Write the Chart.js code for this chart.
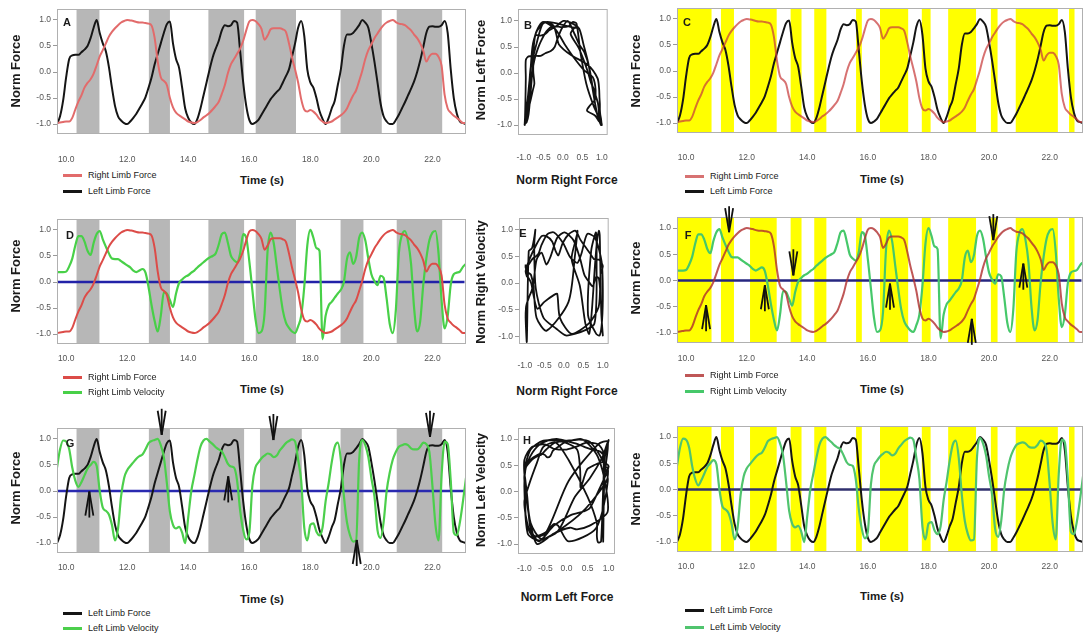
<!DOCTYPE html>
<html>
<head>
<meta charset="utf-8">
<script src="https://cdn.jsdelivr.net/npm/chart.js"></script>
<style>
  body { margin: 0; background: #fff; width: 1083px; height: 637px; overflow: hidden; position: relative;
         font-family: "Liberation Sans", Arial, sans-serif; }
  canvas { position: absolute; }
  .lbl { position: absolute; white-space: nowrap; color: #1a1a1a; line-height: 1; }
</style>
</head>
<body>
<script>
// time base (s), shared by every trace
const time = [
  9.7, 9.8, 9.9, 10.0, 10.1, 10.2, 10.3, 10.4, 10.5, 10.6,
  10.7, 10.8, 10.9, 11.0, 11.1, 11.2, 11.3, 11.4, 11.5, 11.6,
  11.7, 11.8, 11.9, 12.0, 12.1, 12.2, 12.3, 12.4, 12.5, 12.6,
  12.7, 12.8, 12.9, 13.0, 13.1, 13.2, 13.3, 13.4, 13.5, 13.6,
  13.7, 13.8, 13.9, 14.0, 14.1, 14.2, 14.3, 14.4, 14.5, 14.6,
  14.7, 14.8, 14.9, 15.0, 15.1, 15.2, 15.3, 15.4, 15.5, 15.6,
  15.7, 15.8, 15.9, 16.0, 16.1, 16.2, 16.3, 16.4, 16.5, 16.6,
  16.7, 16.8, 16.9, 17.0, 17.1, 17.2, 17.3, 17.4, 17.5, 17.6,
  17.7, 17.8, 17.9, 18.0, 18.1, 18.2, 18.3, 18.4, 18.5, 18.6,
  18.7, 18.8, 18.9, 19.0, 19.1, 19.2, 19.3, 19.4, 19.5, 19.6,
  19.7, 19.8, 19.9, 20.0, 20.1, 20.2, 20.3, 20.4, 20.5, 20.6,
  20.7, 20.8, 20.9, 21.0, 21.1, 21.2, 21.3, 21.4, 21.5, 21.6,
  21.7, 21.8, 21.9, 22.0, 22.1, 22.2, 22.3, 22.4, 22.5, 22.6,
  22.7, 22.8, 22.9, 23.0, 23.1
];

const rightForce = [
  -0.98, -0.97, -0.96, -0.95, -0.95, -0.88, -0.72, -0.57, -0.45, -0.30,
  -0.21, -0.14, -0.03, 0.13, 0.30, 0.42, 0.55, 0.68, 0.77, 0.84,
  0.90, 0.95, 0.98, 1.00, 0.99, 0.98, 0.96, 0.95, 0.95, 0.94,
  0.93, 0.89, 0.65, 0.20, -0.10, -0.17, -0.25, -0.50, -0.68, -0.78,
  -0.83, -0.87, -0.91, -0.95, -0.97, -0.98, -0.96, -0.92, -0.87, -0.83,
  -0.78, -0.72, -0.65, -0.57, -0.42, -0.25, -0.02, 0.15, 0.25, 0.35,
  0.45, 0.60, 0.80, 0.97, 1.00, 0.98, 0.92, 0.83, 0.62, 0.70,
  0.82, 0.84, 0.84, 0.84, 0.82, 0.77, 0.55, 0.28, 0.05, -0.20,
  -0.52, -0.72, -0.76, -0.73, -0.76, -0.82, -0.90, -0.95, -0.98, -0.97,
  -0.95, -0.91, -0.87, -0.83, -0.78, -0.70, -0.57, -0.45, -0.35, -0.17,
  0.02, 0.25, 0.42, 0.53, 0.65, 0.74, 0.83, 0.90, 0.95, 0.98,
  1.00, 0.96, 0.93, 0.92, 0.90, 0.85, 0.80, 0.72, 0.65, 0.55,
  0.41, 0.20, 0.30, 0.35, 0.35, 0.29, 0.12, -0.44, -0.70, -0.78,
  -0.84, -0.88, -0.93, -0.98, -0.98
];

const leftForce = [
  -1.00, -0.85, -0.55, -0.10, 0.25, 0.32, 0.33, 0.33, 0.38, 0.43,
  0.50, 0.65, 0.85, 1.00, 0.75, 0.55, 0.40, 0.10, -0.30, -0.65,
  -0.85, -0.93, -0.98, -1.00, -0.95, -0.88, -0.80, -0.70, -0.60, -0.48,
  -0.30, -0.10, 0.15, 0.35, 0.55, 0.75, 0.92, 0.97, 0.55, 0.25,
  0.08, -0.30, -0.70, -0.88, -0.97, -1.00, -0.90, -0.70, -0.45, -0.20,
  0.05, 0.28, 0.45, 0.60, 0.80, 0.90, 0.88, 0.90, 0.98, 0.95,
  0.40, -0.20, -0.65, -0.92, -1.00, -0.97, -0.92, -0.82, -0.72, -0.62,
  -0.52, -0.45, -0.38, -0.32, -0.20, -0.08, 0.05, 0.30, 0.55, 0.85,
  0.98, 0.70, 0.05, -0.20, -0.30, -0.50, -0.75, -0.90, -1.00, -0.88,
  -0.70, -0.55, -0.25, 0.05, 0.50, 0.72, 0.72, 0.75, 0.82, 0.90,
  1.00, 0.95, 0.85, 0.55, 0.20, -0.20, -0.60, -0.85, -0.95, -1.00,
  -1.00, -0.92, -0.82, -0.70, -0.58, -0.45, -0.32, -0.18, 0.00, 0.22,
  0.48, 0.75, 0.87, 0.88, 0.87, 0.87, 0.90, 0.98, 0.75, 0.05,
  -0.50, -0.80, -0.95, -0.98, -1.00
];

const rightVelocity = [
  0.19, 0.19, 0.19, 0.20, 0.30, 0.45, 0.70, 0.88, 0.88, 0.78,
  0.60, 0.52, 0.75, 0.92, 0.98, 0.82, 0.68, 0.55, 0.45, 0.44,
  0.44, 0.40, 0.36, 0.32, 0.28, 0.22, 0.19, 0.22, 0.25, 0.18,
  -0.10, -0.45, -0.75, -0.95, -0.65, -0.20, -0.22, -0.35, -0.48, -0.22,
  -0.02, 0.05, 0.10, 0.13, 0.18, 0.22, 0.28, 0.33, 0.38, 0.43,
  0.47, 0.50, 0.55, 0.72, 0.92, 0.95, 0.75, 0.50, 0.42, 0.38,
  0.55, 0.92, 0.85, 0.40, -0.15, -0.70, -0.98, -0.95, -0.60, 0.60,
  0.95, 0.75, 0.30, -0.15, -0.55, -0.78, -0.88, -0.95, -0.98, -0.85,
  -0.65, -0.10, 0.70, 1.00, 0.85, 0.65, 0.60, -1.10, -0.65, -0.45,
  -0.38, -0.30, -0.22, -0.15, 0.00, 0.44, 0.57, 0.35, 0.48, 0.85,
  0.95, 0.80, 0.45, 0.15, 0.02, -0.06, 0.12, 0.08, -0.32, -0.80,
  -0.98, -0.55, 0.55, 0.90, 0.98, 0.78, 0.35, -0.50, -0.95, -0.75,
  -0.05, 0.45, 0.80, 0.95, 0.98, 0.55, -0.35, -0.89, -0.65, -0.05,
  0.15, 0.18, 0.20, 0.29, 0.35
];

const leftVelocity = [
  0.45, 0.80, 0.97, 0.95, 0.80, 0.45, 0.20, 0.08, 0.17, 0.30,
  0.43, 0.50, 0.56, 0.48, 0.00, -0.32, -0.38, -0.45, -0.65, -0.95,
  -0.72, -0.10, 0.25, 0.40, 0.48, 0.55, 0.62, 0.67, 0.70, 0.80,
  0.92, 0.96, 0.98, 1.00, 0.88, 0.65, 0.15, -0.40, -0.65, -0.72,
  -0.69, -0.80, -1.00, -0.50, 0.00, 0.30, 0.60, 0.85, 0.97, 1.00,
  0.95, 0.90, 0.84, 0.80, 0.76, 0.65, 0.52, 0.47, 0.45, 0.20,
  -0.37, -0.75, -0.93, -0.80, 0.10, 0.45, 0.55, 0.63, 0.68, 0.72,
  0.70, 0.65, 0.68, 0.78, 0.85, 0.92, 0.96, 0.99, 0.95, 0.60,
  0.20, -0.70, -0.95, -0.65, -0.62, -0.78, -0.85, -0.70, -0.20, 0.15,
  0.55, 0.85, 0.93, 0.60, -0.10, -0.60, -0.85, -0.97, -0.95, 0.60,
  0.98, 0.88, 0.65, 0.25, -0.10, -0.75, -0.90, -0.60, 0.00, 0.35,
  0.60, 0.75, 0.85, 0.88, 0.90, 0.88, 0.82, 0.80, 0.80, 0.85,
  0.93, 0.90, 0.75, 0.10, -0.65, -0.95, 0.30, 0.95, 0.90, 0.20,
  -0.80, -0.85, -0.60, -0.20, 0.25
];

// shaded phases, [start, end] in seconds
const grayBandsA = [[10.34, 11.09], [12.71, 13.40], [14.66, 15.83], [16.21, 17.53], [18.99, 20.34], [20.83, 22.32]];
const grayBandsD = [[10.34, 11.09], [12.71, 13.40], [14.66, 15.83], [16.21, 17.53], [18.99, 19.74], [20.83, 22.32]];
const grayBandsG = [[10.34, 11.09], [12.71, 13.40], [14.66, 15.83], [16.35, 17.72], [18.99, 19.74], [20.83, 22.32]];
const yellowBands = [[9.70, 10.84], [11.15, 11.58], [12.11, 12.99], [13.45, 13.81], [14.23, 14.63], [15.61, 15.80],
                     [16.40, 17.33], [17.78, 18.07], [18.65, 19.57], [20.06, 20.28], [20.88, 22.27], [22.64, 22.82]];

// arrow markers: time, value at the tip, pointing direction
const arrowsF = [
  { t: 11.42, v: 0.92, dir: "down" }, { t: 10.66, v: -0.47, dir: "up" },
  { t: 12.60, v: -0.09, dir: "up" }, { t: 13.54, v: 0.10, dir: "down" },
  { t: 16.73, v: -0.06, dir: "up" }, { t: 19.43, v: -0.73, dir: "up" },
  { t: 20.14, v: 0.77, dir: "down" }, { t: 21.13, v: 0.32, dir: "up" }
];
const arrowsG = [
  { t: 10.76, v: -0.01, dir: "up" }, { t: 13.13, v: 1.08, dir: "down" },
  { t: 15.31, v: 0.28, dir: "up" }, { t: 16.79, v: 0.98, dir: "down" },
  { t: 19.52, v: -0.94, dir: "up" }, { t: 21.92, v: 1.04, dir: "down" }
];

function pairs(xs, ys) {
  return xs.map((x, i) => ({ x: x, y: ys[i] }));
}

function trace(values, color, width) {
  return {
    data: pairs(time, values),
    borderColor: color,
    borderWidth: width || 2,
    pointRadius: 0,
    cubicInterpolationMode: "monotone",
  };
}

function loop(xs, ys) {
  return {
    data: pairs(xs, ys),
    borderColor: "#111",
    borderWidth: 1.8,
    pointRadius: 0,
    tension: 0.25,
  };
}

function zeroLine(color) {
  return {
    data: [{ x: time[0], y: 0 }, { x: time[time.length - 1] - 0.05, y: 0 }],
    borderColor: color,
    borderWidth: 2.5,
    pointRadius: 0,
  };
}

const decor = {
  id: "decor",
  beforeDatasetsDraw(chart, args, opts) {
    const { ctx, chartArea: a, scales } = chart;
    ctx.save();
    ctx.fillStyle = opts.bandColor;
    (opts.bands || []).forEach(([s, e]) => {
      const x0 = Math.max(a.left, scales.x.getPixelForValue(s));
      const x1 = Math.min(a.right, scales.x.getPixelForValue(e));
      ctx.fillRect(x0, a.top, x1 - x0, a.bottom - a.top);
    });
    ctx.restore();
  },
  afterDatasetsDraw(chart, args, opts) {
    const { ctx, chartArea: a, scales } = chart;
    ctx.save();
    ctx.strokeStyle = "#b0b0b0";
    ctx.lineWidth = 1;
    ctx.strokeRect(a.left + 0.5, a.top + 0.5, a.right - a.left - 1, a.bottom - a.top - 1);

    ctx.strokeStyle = "#111";
    ctx.lineWidth = 1.8;
    (opts.arrows || []).forEach((ar) => {
      const px = scales.x.getPixelForValue(ar.t);
      const py = scales.y.getPixelForValue(ar.v);
      const s = ar.dir === "down" ? -1 : 1;
      [-4, 0, 4].forEach((dx) => {
        ctx.beginPath();
        ctx.moveTo(px, py);
        ctx.lineTo(px + dx, py + s * (dx === 0 ? 26 : 24));
        ctx.stroke();
      });
    });
    ctx.restore();
  },
};

function makePanel(p) {
  const W = 40, H = 34;
  const padTop = Math.min(p.padTop || 14, p.box[1]);
  const padRight = p.box[2] >= 1083 ? 0 : 4;
  const cw = p.box[2] - p.box[0] + W + padRight;
  const ch = p.box[3] - p.box[1] + padTop + H;
  const canvas = document.createElement("canvas");
  canvas.width = cw;
  canvas.height = ch;
  canvas.style.left = p.box[0] - W + "px";
  canvas.style.top = p.box[1] - padTop + "px";
  canvas.style.width = cw + "px";
  canvas.style.height = ch + "px";
  document.body.appendChild(canvas);

  const tickFont = { family: "Liberation Sans", size: 8.5 };

  new Chart(canvas, {
    type: "line",
    data: { datasets: p.datasets },
    options: {
      responsive: false,
      animation: false,
      devicePixelRatio: 1,
      layout: { padding: { top: padTop, right: padRight, left: 0, bottom: 0 } },
      plugins: {
        legend: { display: false },
        tooltip: { enabled: false },
        decor: { bands: p.bands, bandColor: p.bandColor, arrows: p.arrows },
      },
      scales: {
        x: {
          type: "linear",
          min: p.xMin,
          max: p.xMax,
          afterFit: (s) => { s.height = H; },
          border: { display: false },
          grid: { display: false },
          ticks: {
            stepSize: p.xStep,
            includeBounds: false,
            autoSkip: false,
            maxRotation: 0,
            padding: p.xPad,
            color: "#555",
            font: tickFont,
            callback: (v) => Number(v).toFixed(1),
          },
        },
        y: {
          type: "linear",
          min: p.yMin,
          max: p.yMax,
          afterFit: (s) => { s.width = W; },
          border: { display: false },
          grid: { drawOnChartArea: false, drawTicks: true, tickLength: 4, color: "#999" },
          ticks: {
            stepSize: 0.5,
            includeBounds: false,
            padding: 2,
            color: "#555",
            font: tickFont,
            callback: (v) => Number(v).toFixed(1),
          },
        },
      },
    },
    plugins: [decor],
  });
}

function addText(txt, x, y, size, bold, rotate) {
  const d = document.createElement("div");
  d.className = "lbl";
  d.textContent = txt;
  d.style.left = x + "px";
  d.style.top = y + "px";
  d.style.fontSize = size + "px";
  if (bold) d.style.fontWeight = "bold";
  d.style.transform = "translate(-50%,-50%)" + (rotate ? " rotate(-90deg)" : "");
  document.body.appendChild(d);
}

function addLegend(x, y, color, txt) {
  const l = document.createElement("div");
  l.style.cssText = `position:absolute;left:${x}px;top:${y - 1}px;width:19px;height:2.5px;background:${color}`;
  document.body.appendChild(l);
  const d = document.createElement("div");
  d.className = "lbl";
  d.textContent = txt;
  d.style.left = x + 25 + "px";
  d.style.top = y + "px";
  d.style.fontSize = "9px";
  d.style.transform = "translateY(-50%)";
  document.body.appendChild(d);
}

const wideX = { xMin: 9.7, xMax: 23.1, xStep: 2, yMin: -1.19, yMax: 1.21 };
const smallX = { xMin: -1.15, xMax: 1.15, xStep: 0.5 };

const redA = "#e26b6b";
const redC = "rgba(200,60,60,0.72)";
const redD = "#dc4c48";
const redF = "rgba(175,45,45,0.8)";
const greenD = "#48d048";
const greenF = "#46c86a";
const greenG = "#4ccf4c";
const greenI = "#50c46e";

// row 1
makePanel(Object.assign({ box: [57, 9, 466, 134], xPad: 13, bands: grayBandsA, bandColor: "#b7b7b7",
  datasets: [trace(rightForce, redA), trace(leftForce, "#151515")] }, wideX));
makePanel(Object.assign({ box: [518, 9, 614, 135], xPad: 10, yMin: -1.19, yMax: 1.23,
  datasets: [loop(rightForce, leftForce)] }, smallX));
makePanel(Object.assign({ box: [677, 8, 1083, 133], xPad: 12, bands: yellowBands, bandColor: "#ffff00",
  datasets: [trace(rightForce, redC), trace(leftForce, "#151515")] }, wideX));

// row 2
makePanel(Object.assign({ box: [57, 219, 466, 344], xPad: 2, bands: grayBandsD, bandColor: "#b7b7b7",
  datasets: [trace(rightForce, redD), trace(rightVelocity, greenD, 2.2), zeroLine("#2222a8")] }, wideX));
makePanel(Object.assign({ box: [519, 218, 614, 344], xPad: 9, yMin: -1.14, yMax: 1.22,
  datasets: [loop(rightForce, rightVelocity)] }, smallX));
makePanel(Object.assign({ box: [677, 217, 1083, 343], xPad: 3, padTop: 14, bands: yellowBands, bandColor: "#ffff00",
  arrows: arrowsF,
  datasets: [trace(rightForce, redF), trace(rightVelocity, greenF, 2.2), zeroLine("#262680")] }, wideX));

// row 3
makePanel(Object.assign({ box: [57, 428, 466, 553], xPad: 2, padTop: 22, bands: grayBandsG, bandColor: "#b7b7b7",
  arrows: arrowsG,
  datasets: [trace(leftVelocity, greenG, 2.2), trace(leftForce, "#151515"), zeroLine("#2a2ab0")] }, wideX));
makePanel(Object.assign({ box: [518, 428, 615, 554], xPad: 2, yMin: -1.19, yMax: 1.21,
  datasets: [loop(leftForce, leftVelocity)] }, smallX));
makePanel(Object.assign({ box: [677, 426, 1083, 552], xPad: 2, bands: yellowBands, bandColor: "#ffff00",
  datasets: [trace(leftVelocity, greenI, 2.2), trace(leftForce, "#151515"), zeroLine("#30306e")] }, wideX));

// panel letters
addText("A", 67, 22, 11, true);
addText("B", 528, 25, 11, true);
addText("C", 687, 22, 11, true);
addText("D", 70, 235, 11, true);
addText("E", 523, 233, 11, true);
addText("F", 688, 235, 11, true);
addText("G", 70, 443, 11, true);
addText("H", 527, 440, 11, true);

// axis titles
addText("Norm Force", 15, 71, 13, true, true);
addText("Norm Left Force", 480, 70, 13, true, true);
addText("Norm Force", 635, 71, 13, true, true);
addText("Norm Force", 15, 276, 13, true, true);
addText("Norm Right  Velocity", 480, 282, 13, true, true);
addText("Norm Force", 635, 278, 13, true, true);
addText("Norm Force", 15, 488, 13, true, true);
addText("Norm Left  Velocity", 480, 490, 13, true, true);
addText("Norm Force", 635, 489, 13, true, true);

addText("Time (s)", 262, 181, 11.5, true);
addText("Norm Right Force", 567, 180, 12, true);
addText("Time (s)", 882, 180, 11.5, true);
addText("Time (s)", 262, 390, 11.5, true);
addText("Norm Right Force", 567, 391, 12, true);
addText("Time (s)", 882, 390, 11.5, true);
addText("Time (s)", 262, 600, 11.5, true);
addText("Norm Left Force", 567, 597, 12, true);
addText("Time (s)", 882, 597, 11.5, true);

// legends
addLegend(63, 175, redA, "Right Limb Force");
addLegend(63, 191, "#151515", "Left Limb Force");
addLegend(685, 176, redC, "Right Limb Force");
addLegend(685, 191, "#151515", "Left Limb Force");
addLegend(63, 377, redD, "Right Limb Force");
addLegend(63, 392, greenD, "Right Limb Velocity");
addLegend(685, 375, redF, "Right Limb Force");
addLegend(685, 391, greenF, "Right Limb Velocity");
addLegend(63, 613, "#151515", "Left Limb Force");
addLegend(63, 628, greenG, "Left Limb Velocity");
addLegend(685, 610, "#151515", "Left Limb Force");
addLegend(685, 627, greenI, "Left Limb Velocity");
</script>
</body>
</html>
